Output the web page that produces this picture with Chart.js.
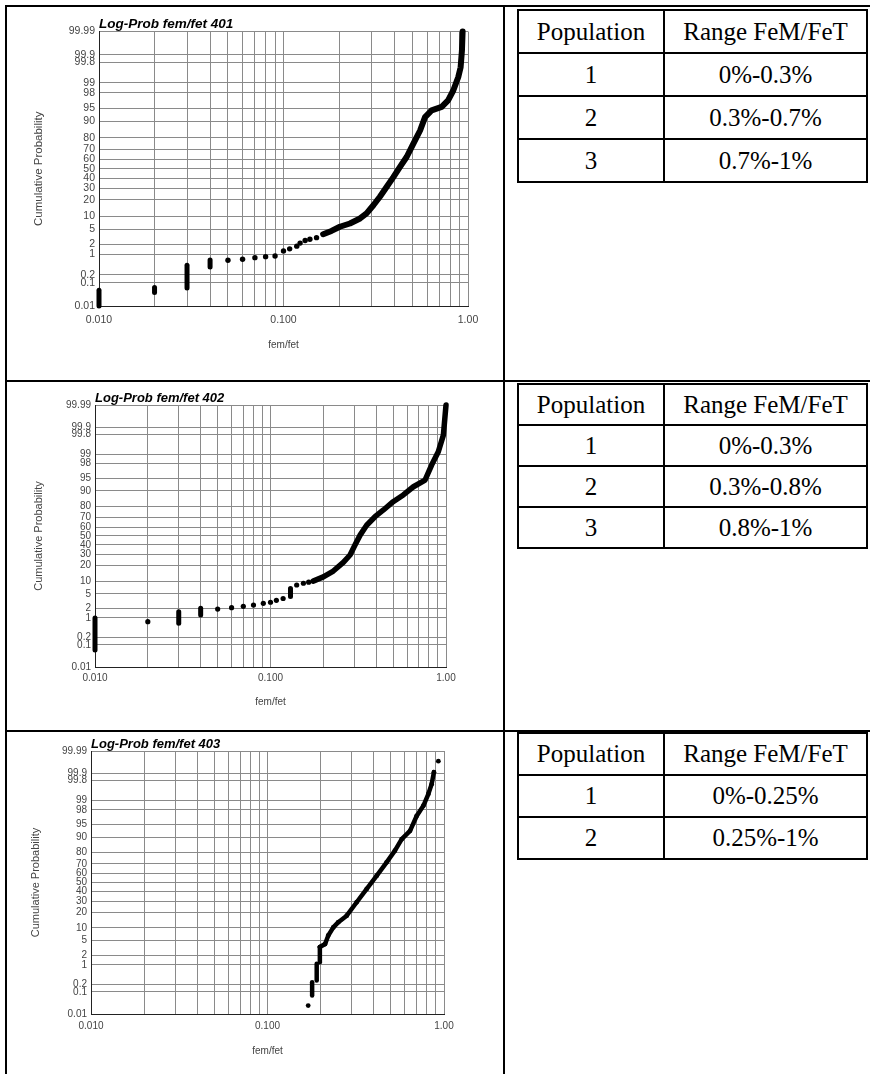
<!DOCTYPE html>
<html>
<head>
<meta charset="utf-8">
<script src="https://cdn.jsdelivr.net/npm/chart.js@4.4.1/dist/chart.umd.min.js"></script>
<style>
    body { margin: 0; width: 870px; height: 1074px; position: relative; overflow: hidden; background: #fff; }
    .linea { position: absolute; background: #000; }
    canvas.grafico { position: absolute; left: 0; }
    table.poblacion {
        position: absolute; left: 517px; width: 351px; border-collapse: collapse; table-layout: fixed;
        font-family: "Liberation Serif", "Times New Roman", serif; font-size: 25px; color: #000;
    }
    table.poblacion td { border: 2px solid #000; text-align: center; vertical-align: middle; padding: 0; }
</style>
</head>
<body>
<div class="linea" style="left:5px; top:5px; width:865px; height:2px;"></div>
<div class="linea" style="left:5px; top:5px; width:2px; height:1069px;"></div>
<div class="linea" style="left:503px; top:5px; width:2px; height:1069px;"></div>
<div class="linea" style="left:5px; top:380px; width:865px; height:2px;"></div>
<div class="linea" style="left:5px; top:730px; width:865px; height:2px;"></div>

<canvas id="g401" class="grafico" width="500" height="370" style="top:0px"></canvas>
<canvas id="g402" class="grafico" width="500" height="355" style="top:370px"></canvas>
<canvas id="g403" class="grafico" width="500" height="354" style="top:720px"></canvas>

<table id="t401" class="poblacion" style="top:9px"></table>
<table id="t402" class="poblacion" style="top:383px"></table>
<table id="t403" class="poblacion" style="top:732px"></table>

<script>
// Etiquetas de los ejes
const etiquetasProb = [0.01, 0.1, 0.2, 1, 2, 5, 10, 20, 30, 40, 50, 60, 70, 80, 90, 95, 98, 99, 99.8, 99.9, 99.99];
const ticksX = [0.01, 0.02, 0.03, 0.04, 0.05, 0.06, 0.07, 0.08, 0.09,
                0.1, 0.2, 0.3, 0.4, 0.5, 0.6, 0.7, 0.8, 0.9, 1];
const etiquetasX = [[0.01, '0.010'], [0.1, '0.100'], [1, '1.00']];

// Muestra 401: [fem/fet, % acumulado]
const pilas401 = [[0.01, 0.01, 0.05], [0.02, 0.04, 0.065], [0.03, 0.062, 0.45], [0.04, 0.39, 0.67]];
const puntos401 = [[0.05, 0.66], [0.06, 0.71], [0.07, 0.8], [0.08, 0.86], [0.09, 0.9], [0.1, 1.3],
                   [0.108, 1.5], [0.118, 1.8], [0.123, 2.2], [0.131, 2.6], [0.139, 2.8], [0.151, 3.1]];
const curva401 = [[0.164, 3.8], [0.182, 4.6], [0.202, 5.8], [0.229, 6.9], [0.26, 8.9], [0.282, 11.3],
                  [0.307, 16.1], [0.333, 22.4], [0.362, 31], [0.394, 41], [0.428, 52], [0.465, 62.5],
                  [0.505, 75], [0.55, 85], [0.585, 91.9], [0.635, 94.3], [0.72, 95.3], [0.78, 96.8],
                  [0.832, 98.3], [0.885, 99.34], [0.912, 99.7], [0.927, 99.93], [0.935, 99.99]];

// Muestra 402
const pilas402 = [[0.01, 0.06, 1.0], [0.03, 0.66, 1.58], [0.04, 1.25, 2.0], [0.13, 4.3, 6.8]];
const puntos402 = [[0.02, 0.75], [0.05, 1.9], [0.06, 2.1], [0.07, 2.3], [0.08, 2.5], [0.091, 2.8],
                   [0.1, 3.0], [0.108, 3.4], [0.118, 3.8], [0.141, 8.2], [0.154, 9.0], [0.165, 9.5]];
const curva402 = [[0.175, 10], [0.2, 12.3], [0.228, 16], [0.26, 22.7], [0.284, 29.5], [0.303, 39.9],
                  [0.324, 51], [0.353, 62], [0.394, 70.8], [0.44, 77], [0.5, 83.5], [0.571, 87.8],
                  [0.652, 91.9], [0.76, 94.4], [0.828, 97.8], [0.904, 99.16], [0.966, 99.79], [1.0, 99.99]];

// Muestra 403
const pilas403 = [[0.179, 0.07, 0.24], [0.19, 0.28, 1.07], [0.198, 1.2, 3.4]];
const puntos403 = [[0.17, 0.025], [0.929, 99.97]];
const curva403 = [[0.198, 3.4], [0.212, 4.1], [0.221, 6.7], [0.236, 10.2], [0.252, 13.1], [0.281, 17.4],
                  [0.32, 28.8], [0.365, 42.8], [0.416, 57.6], [0.473, 71.6], [0.527, 81.6], [0.576, 89],
                  [0.642, 92.8], [0.7, 97], [0.764, 98.5], [0.815, 99.38], [0.851, 99.73], [0.877, 99.91]];

// Tablas de poblaciones
const encabezado = ['Population', 'Range FeM/FeT'];
const rangos401 = ['0%-0.3%', '0.3%-0.7%', '0.7%-1%'];
const rangos402 = ['0%-0.3%', '0.3%-0.8%', '0.8%-1%'];
const rangos403 = ['0%-0.25%', '0.25%-1%'];

const fuente = '"Liberation Sans", Arial, Helvetica, sans-serif';

// cuantil de la normal (Acklam) para la escala de probabilidad
function probit(pct) {
    const p = pct / 100;
    const a = [-3.969683028665376e+01, 2.209460984245205e+02, -2.759285104469687e+02, 1.383577518672690e+02, -3.066479806614716e+01, 2.506628277459239e+00];
    const b = [-5.447609879822406e+01, 1.615858368580409e+02, -1.556989798598866e+02, 6.680131188771972e+01, -1.328068155288572e+01];
    const c = [-7.784894002430293e-03, -3.223964580411365e-01, -2.400758277161838e+00, -2.549732539343734e+00, 4.374664141464968e+00, 2.938163982698783e+00];
    const d = [7.784695709041462e-03, 3.224671290700398e-01, 2.445134137142996e+00, 3.754408661907416e+00];
    const pl = 0.02425;
    let q, r;
    if (p < pl) {
        q = Math.sqrt(-2 * Math.log(p));
        return (((((c[0] * q + c[1]) * q + c[2]) * q + c[3]) * q + c[4]) * q + c[5]) / ((((d[0] * q + d[1]) * q + d[2]) * q + d[3]) * q + 1);
    }
    if (p > 1 - pl) {
        q = Math.sqrt(-2 * Math.log(1 - p));
        return -(((((c[0] * q + c[1]) * q + c[2]) * q + c[3]) * q + c[4]) * q + c[5]) / ((((d[0] * q + d[1]) * q + d[2]) * q + d[3]) * q + 1);
    }
    q = p - 0.5; r = q * q;
    return (((((a[0] * r + a[1]) * r + a[2]) * r + a[3]) * r + a[4]) * r + a[5]) * q / (((((b[0] * r + b[1]) * r + b[2]) * r + b[3]) * r + b[4]) * r + 1);
}

function etiquetaX(v) {
    const e = etiquetasX.find(([t]) => Math.abs(t - v) < 1e-9);
    return e ? e[1] : '';
}

function crearGrafico(id, titulo, pilas, puntos, curva, m) {
    const canvas = document.getElementById(id);
    const aXY = lista => lista.map(([x, p]) => ({ x: x, y: probit(p) }));

    // pilas verticales de puntos (mismo valor de fem/fet)
    const datasets = pilas.map(([x, bajo, alto]) => ({
        data: [{ x: x, y: probit(bajo) }, { x: x, y: probit(alto) }],
        showLine: true, borderColor: '#000', borderWidth: m.pila, borderCapStyle: 'round', pointRadius: 0,
        clip: 8
    }));
    datasets.push({
        data: aXY(curva), showLine: true, borderColor: '#000', borderWidth: m.curva,
        borderCapStyle: 'round', borderJoinStyle: 'round', clip: 8,
        pointRadius: m.radioCurva, pointBackgroundColor: '#000', pointBorderWidth: 0
    });
    datasets.push({
        data: aXY(puntos), showLine: false, clip: 8,
        pointRadius: m.radio, pointBackgroundColor: '#000', pointBorderWidth: 0
    });

    const colorTexto = '#444';
    const colorGrilla = '#8a8a8a';

    return new Chart(canvas, {
        type: 'scatter',
        data: { datasets: datasets },
        options: {
            animation: false,
            responsive: false,
            layout: { padding: { top: m.arriba - 13 - m.top, right: canvas.width - m.derecha, bottom: 0, left: 0 } },
            plugins: {
                legend: { display: false },
                tooltip: { enabled: false },
                title: {
                    display: true, text: titulo, align: 'start', fullSize: false, padding: 0, color: '#000',
                    font: { family: fuente, size: m.fTitulo, weight: 'bold', style: 'italic', lineHeight: 1 }
                }
            },
            scales: {
                x: {
                    type: 'logarithmic', min: 0.01, max: 1,
                    afterBuildTicks: eje => { eje.ticks = ticksX.map(v => ({ value: v })); },
                    afterFit: eje => { eje.height = canvas.height - (m.abajo - m.top); },
                    ticks: {
                        autoSkip: false, maxRotation: 0, padding: m.padX, color: colorTexto,
                        font: { family: fuente, size: m.fTicks }, callback: v => etiquetaX(v)
                    },
                    grid: { color: colorGrilla, drawTicks: false, lineWidth: 1 },
                    border: { color: '#222', width: 1 },
                    title: {
                        display: true, text: 'fem/fet', color: colorTexto,
                        font: { family: fuente, size: 10 }, padding: { top: 0, bottom: m.padTituloX }
                    }
                },
                y: {
                    type: 'linear', min: probit(0.01), max: probit(99.99),
                    afterBuildTicks: eje => { eje.ticks = etiquetasProb.map(p => ({ value: probit(p) })); },
                    afterFit: eje => { eje.width = m.izquierda; },
                    ticks: {
                        autoSkip: false, padding: 4, color: colorTexto,
                        font: { family: fuente, size: m.fTicks }, callback: (v, i) => String(etiquetasProb[i])
                    },
                    grid: { color: colorGrilla, drawTicks: false, lineWidth: 1 },
                    border: { color: '#222', width: 1 },
                    title: {
                        display: true, text: 'Cumulative Probability', color: colorTexto,
                        font: { family: fuente, size: m.fTituloY }, padding: { top: m.padTituloY, bottom: 0 }
                    }
                }
            }
        }
    });
}

function crearTabla(id, rangos, altoFila) {
    const nodo = document.getElementById(id);
    const filas = rangos.map((rango, i) =>
        `<tr style="height:${altoFila}px"><td>${i + 1}</td><td>${rango}</td></tr>`).join('');
    nodo.innerHTML = `<colgroup><col style="width:146px"><col></colgroup>
        <tr style="height:${altoFila}px"><td>${encabezado[0]}</td><td>${encabezado[1]}</td></tr>${filas}`;
}

crearGrafico('g401', 'Log-Prob fem/fet 401', pilas401, puntos401, curva401,
    { top: 0, izquierda: 99, derecha: 468, arriba: 31, abajo: 306, padX: 8, padTituloX: 19, padTituloY: 32,
      fTicks: 10.5, fTitulo: 13.5, fTituloY: 11.5, pila: 5, curva: 6, radio: 2.7, radioCurva: 0 });
crearGrafico('g402', 'Log-Prob fem/fet 402', pilas402, puntos402, curva402,
    { top: 370, izquierda: 95, derecha: 446, arriba: 405, abajo: 667, padX: 5, padTituloX: 17, padTituloY: 32,
      fTicks: 10, fTitulo: 13, fTituloY: 11, pila: 5, curva: 5.5, radio: 2.6, radioCurva: 0 });
crearGrafico('g403', 'Log-Prob fem/fet 403', pilas403, puntos403, curva403,
    { top: 720, izquierda: 91, derecha: 444, arriba: 751, abajo: 1014, padX: 6, padTituloX: 17, padTituloY: 29,
      fTicks: 10, fTitulo: 13, fTituloY: 11, pila: 4.5, curva: 4.5, radio: 2.4, radioCurva: 2.4 });

crearTabla('t401', rangos401, 43);
crearTabla('t402', rangos402, 41);
crearTabla('t403', rangos403, 42);
</script>
</body>
</html>
